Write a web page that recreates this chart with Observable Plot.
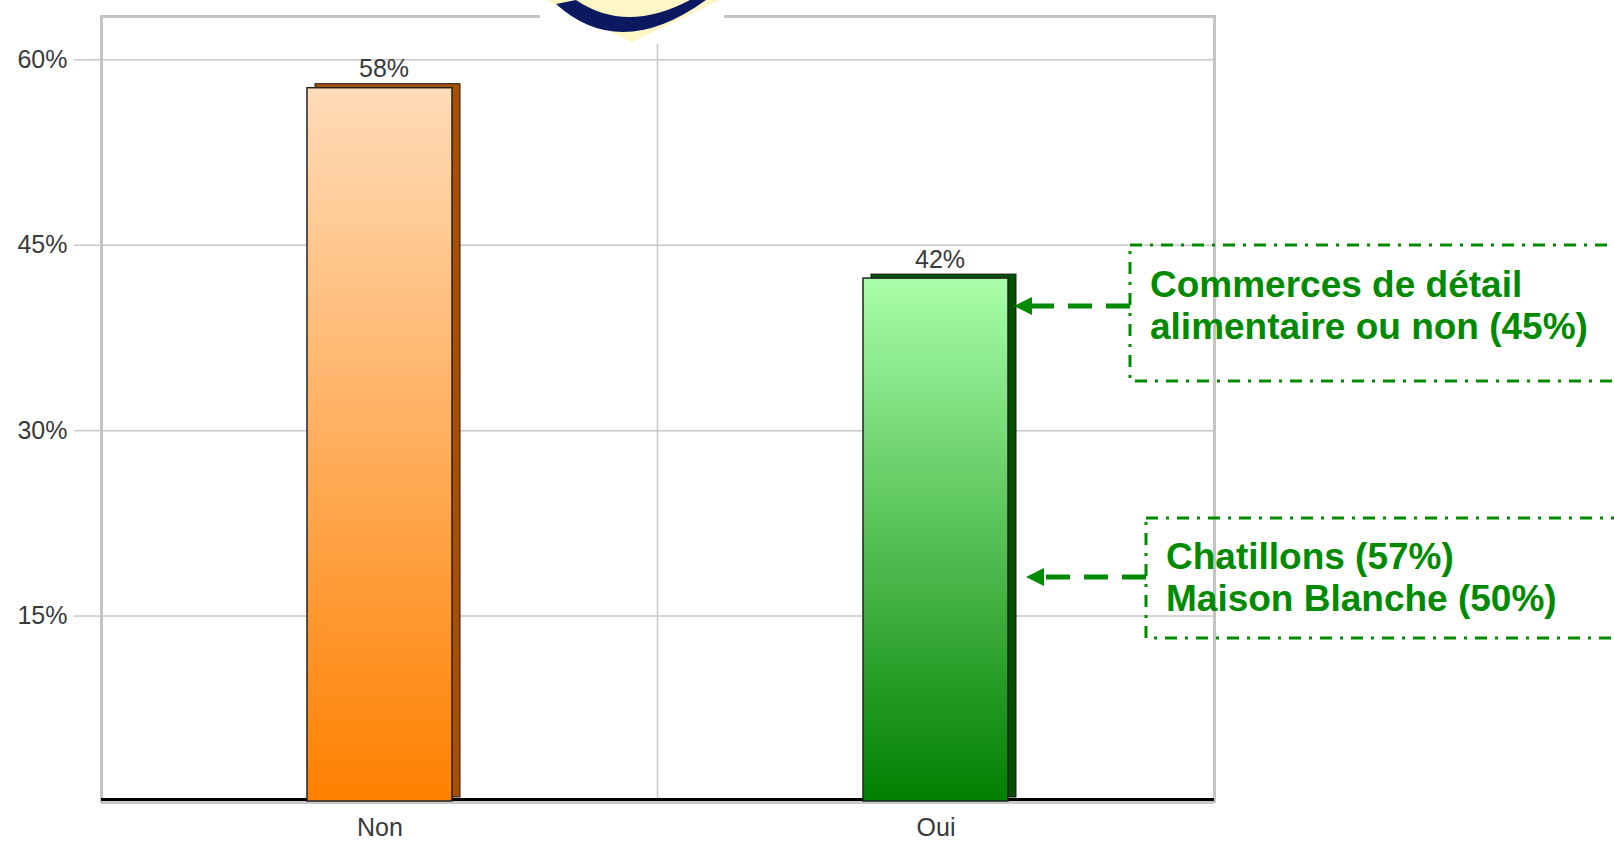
<!DOCTYPE html>
<html><head><meta charset="utf-8">
<script src="https://cdn.jsdelivr.net/npm/d3@7"></script>
<script src="https://cdn.jsdelivr.net/npm/@observablehq/plot@0.6"></script>
<style>body{margin:0;background:#fff;} svg{display:block}</style>
</head><body><div id="chart"></div>
<script>
// ---- data ----
const categories = ["Non", "Oui"];
const values = [57.7, 42.3];
const yTicks = [15, 30, 45, 60];
const note1 = ["Commerces de détail", "alimentaire ou non (45%)"];
const note2 = ["Chatillons (57%)", "Maison Blanche (50%)"];

const data = categories.map((c, i) => ({cat: c, value: values[i]}));
const grads = {Non: ["#ffdcb8", "#ff8000"], Oui: ["#a9ffa9", "#008000"]};
const sides = {Non: "#a84f00", Oui: "#005200"};
const green = "#008a00";
const FONT = "'Liberation Sans', Arial, sans-serif";

const W = 1614, H = 841;
const plot = Plot.plot({
  width: W, height: H,
  marginLeft: 101, marginRight: 400, marginTop: 16, marginBottom: 40,
  style: {fontFamily: FONT, background: "#fff"},
  color: {type: "identity"},
  x: {domain: categories, paddingInner: 0.74, paddingOuter: 0.37, axis: null},
  y: {domain: [0, 63.5], axis: null},
  marks: [
    Plot.gridY(yTicks, {stroke: "#c8c8c8", strokeOpacity: 1, strokeWidth: 1.5}),
    Plot.axisY(yTicks, {tickSize: 27, tickPadding: 7, stroke: "#c8c8c8", strokeOpacity: 1, strokeWidth: 1.5,
      fill: "#3a3a3a", tickFormat: d => d + "%", fontSize: 25, label: null}),
    Plot.axisX({tickSize: 0, tickPadding: 17, fontSize: 25, fill: "#3a3a3a", label: null}),
    Plot.frame({stroke: "#c4c4c4", strokeWidth: 3}),
    Plot.ruleY([0], {stroke: "#c8c8c8", strokeWidth: 3, dy: 1}),
    Plot.ruleY([0], {stroke: "#000", strokeWidth: 3, dy: -2}),
    Plot.barY(data, {x: "cat", y: "value", fill: d => sides[d.cat], dx: 8, dy: -4, stroke: "#1a1a1a", strokeWidth: 1}),
    Plot.barY(data, {x: "cat", y: "value", fill: d => `url(#grad-${d.cat})`, stroke: "#222", strokeWidth: 1.5}),
    Plot.text(data, {x: "cat", y: "value", text: d => Math.round(d.value) + "%", dy: -11, dx: 4,
      lineAnchor: "bottom", fontSize: 25, fill: "#3a3a3a"})
  ]
});
document.getElementById("chart").appendChild(plot);

const svg = d3.select(plot);
const defs = svg.insert("defs", ":first-child");
for (const c of categories) {
  const g = defs.append("linearGradient").attr("id", "grad-" + c)
    .attr("x1", 0).attr("y1", 0).attr("x2", 0).attr("y2", 1);
  g.append("stop").attr("offset", "0%").attr("stop-color", grads[c][0]);
  g.append("stop").attr("offset", "100%").attr("stop-color", grads[c][1]);
}

// vertical grid line between the two category bands
const xs = plot.scale("x");
const centers = categories.map(c => xs.apply(c) + xs.bandwidth / 2);
const mid = (centers[0] + centers[1]) / 2;
svg.insert("line", "defs + *")
  .attr("x1", mid).attr("x2", mid).attr("y1", 16).attr("y2", 801)
  .attr("stroke", "#c8c8c8").attr("stroke-width", 1.5);

// annotations
const boxes = [
  {x: 1130, y: 245, h: 136, tx: 1150, ty: [284, 326], lines: note1, ay: 306, tip: 1014},
  {x: 1146, y: 518, h: 120, tx: 1166, ty: [556, 598], lines: note2, ay: 577, tip: 1026}
];
const ann = svg.append("g").attr("text-anchor", "start");
for (const b of boxes) {
  ann.append("rect").attr("x", b.x).attr("y", b.y).attr("width", W - b.x + 30).attr("height", b.h)
    .attr("fill", "none").attr("stroke", green).attr("stroke-width", 3)
    .attr("stroke-dasharray", "12,8,3,8");
  ann.append("line").attr("x1", b.x).attr("x2", b.tip + 14).attr("y1", b.ay).attr("y2", b.ay)
    .attr("stroke", green).attr("stroke-width", 5).attr("stroke-dasharray", "24,14");
  ann.append("path").attr("d", `M${b.tip},${b.ay}L${b.tip + 18},${b.ay - 9}L${b.tip + 18},${b.ay + 9}Z`)
    .attr("fill", green);
  b.lines.forEach((t, i) => {
    ann.append("text").attr("x", b.tx).attr("y", b.ty[i] + 13).text(t)
      .attr("text-anchor", "start")
      .attr("fill", green).attr("font-family", FONT).attr("font-weight", "bold").attr("font-size", 37);
  });
}

// partial logo at the top
const logo = svg.append("g");
logo.append("rect").attr("x", 540).attr("y", 0).attr("width", 184).attr("height", 44).attr("fill", "#fff");
logo.append("path").attr("d", "M546,0L720,0L632,42Z").attr("fill", "#fff6c6");
logo.append("path").attr("d", "M556,4Q620,62 706,0L690,0Q626,34 576,0Z").attr("fill", "#0b1a60");
</script>
</body></html>
